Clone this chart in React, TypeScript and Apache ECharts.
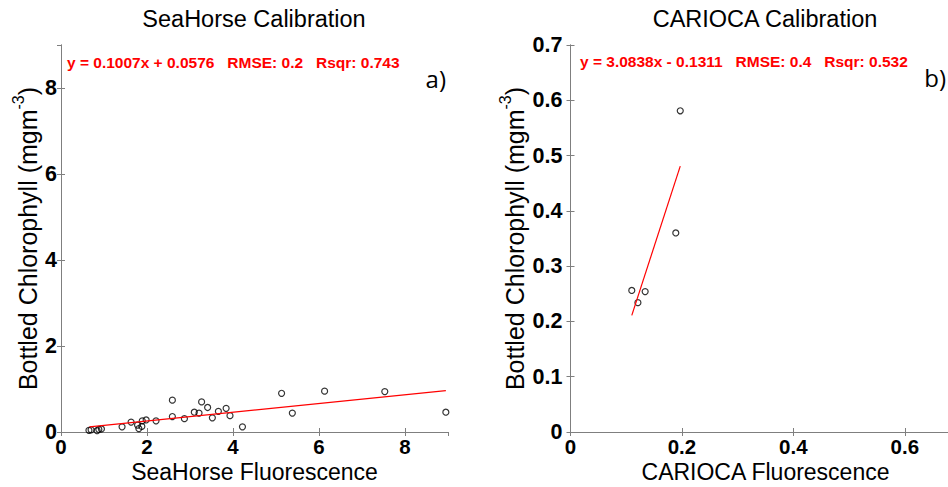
import React, { useEffect, useRef } from 'react';
import * as echarts from 'echarts';

// SeaHorse calibration points (fluorescence, bottled chlorophyll)
const seaHorseX = [0.65, 0.70, 0.84, 0.88, 0.94, 1.42, 1.63, 1.78, 1.81, 1.88, 1.89, 1.98, 2.21, 2.59, 2.59, 2.87, 3.10, 3.21, 3.27, 3.41, 3.52, 3.66, 3.84, 3.93, 4.22, 5.13, 5.38, 6.13, 7.53, 8.95];
const seaHorseY = [0.04, 0.05, 0.03, 0.06, 0.07, 0.12, 0.23, 0.16, 0.08, 0.13, 0.26, 0.28, 0.26, 0.74, 0.36, 0.31, 0.46, 0.44, 0.70, 0.57, 0.33, 0.48, 0.55, 0.38, 0.12, 0.90, 0.44, 0.95, 0.94, 0.46];
const seaHorseFitX = [0.66, 8.95];
const seaHorseFitY = [0.12, 0.96];

// CARIOCA calibration points
const cariocaX = [0.197, 0.189, 0.110, 0.134, 0.121];
const cariocaY = [0.581, 0.360, 0.256, 0.254, 0.234];
const cariocaFitX = [0.110, 0.197];
const cariocaFitY = [0.211, 0.481];

const titles = ['SeaHorse Calibration', 'CARIOCA Calibration'];
const xNames = ['SeaHorse Fluorescence', 'CARIOCA Fluorescence'];
const fitTexts = [
  'y = 0.1007x + 0.0576   RMSE: 0.2   Rsqr: 0.743',
  'y = 3.0838x - 0.1311   RMSE: 0.4   Rsqr: 0.532',
];
const panelTags = ['a)', 'b)'];

const FONT = 'Liberation Sans, Arial, sans-serif';
const GRAY = '#7f7f7f';
const X_NAME_SIZE = 23;
const Y_NAME_SIZE = 25;
const TITLE_SIZE = 23.5;
const TICK_SIZE = 20.5;

function bottomX(gi: number, max: number, interval: number, name: string) {
  return {
    type: 'value', gridIndex: gi, position: 'bottom', min: 0, max, interval,
    name, nameLocation: 'middle', nameGap: 28, nameMoveOverlap: false,
    nameTextStyle: { fontSize: X_NAME_SIZE, fontFamily: FONT, color: '#000', lineHeight: 23 },
    axisLine: { show: true, lineStyle: { color: GRAY, width: 1 } },
    axisTick: { show: true, inside: true, length: 4, lineStyle: { color: GRAY } },
    axisLabel: { fontSize: TICK_SIZE, fontWeight: 'bold', fontFamily: FONT, color: '#000', margin: 4, lineHeight: 21, showMaxLabel: false },
    splitLine: { show: false },
  };
}
function mirror(gi: number, pos: string, max: number, interval: number) {
  return {
    type: 'value', gridIndex: gi, position: pos, min: 0, max, interval,
    axisLine: { show: true, lineStyle: { color: GRAY, width: 1 } },
    axisTick: { show: true, inside: true, length: 4, lineStyle: { color: GRAY } },
    axisLabel: { show: false },
    splitLine: { show: false },
  };
}
function leftY(gi: number, max: number, interval: number, gap: number, margin: number, showMax: boolean) {
  return {
    type: 'value', gridIndex: gi, position: 'left', min: 0, max, interval,
    name: '{n|Bottled Chlorophyll (mgm}{s|-3}{n|)}', nameLocation: 'middle', nameGap: gap, nameMoveOverlap: false,
    nameTextStyle: {
      fontSize: Y_NAME_SIZE, fontFamily: FONT, color: '#000',
      rich: {
        n: { fontSize: Y_NAME_SIZE, fontFamily: FONT, color: '#000', lineHeight: 30, verticalAlign: 'bottom' },
        s: { fontSize: 16, fontFamily: FONT, color: '#000', lineHeight: 16, verticalAlign: 'top' },
      },
    },
    axisLine: { show: true, lineStyle: { color: GRAY, width: 1 } },
    axisTick: { show: true, inside: true, length: 4, lineStyle: { color: GRAY } },
    axisLabel: { fontSize: 21.5, fontWeight: 'bold', fontFamily: FONT, color: '#000', margin, showMaxLabel: showMax },
    splitLine: { show: false },
  };
}

export default function App() {
  const ref = useRef<HTMLDivElement>(null);
  useEffect(() => {
    const chart = echarts.init(ref.current!, null, { renderer: 'svg' });
    const scatterStyle = { color: 'rgba(0,0,0,0)', borderColor: '#000', borderWidth: 1.2 };
    const titleStyle = { fontSize: TITLE_SIZE, fontWeight: 'normal', fontFamily: FONT, color: '#000' };
    chart.setOption({
      animation: false,
      backgroundColor: '#fff',
      title: [
        { text: titles[0], left: 254, top: 7, textAlign: 'center', padding: 0, textStyle: titleStyle },
        { text: titles[1], left: 765, top: 7, textAlign: 'center', padding: 0, textStyle: titleStyle },
      ],
      grid: [
        { left: 61, top: 45, width: 387, height: 387, outerBoundsMode: 'none', containLabel: false },
        { left: 570.5, top: 45, width: 390, height: 387, outerBoundsMode: 'none', containLabel: false },
      ],
      xAxis: [
        bottomX(0, 9, 2, xNames[0]),
        mirror(0, 'top', 9, 2),
        bottomX(1, 0.7, 0.2, xNames[1]),
        mirror(1, 'top', 0.7, 0.2),
      ],
      yAxis: [
        leftY(0, 9, 2, 21, 4, false),
        mirror(0, 'right', 9, 2),
        leftY(1, 0.7, 0.1, 43, 8, true),
        mirror(1, 'right', 0.7, 0.1),
      ],
      series: [
        {
          type: 'line', xAxisIndex: 0, yAxisIndex: 0, symbol: 'none',
          data: seaHorseFitX.map((x, i) => [x, seaHorseFitY[i]]),
          lineStyle: { color: '#ff0000', width: 1.2 },
        },
        {
          type: 'scatter', xAxisIndex: 0, yAxisIndex: 0, symbol: 'circle', symbolSize: 6,
          data: seaHorseX.map((x, i) => [x, seaHorseY[i]]),
          itemStyle: scatterStyle,
        },
        {
          type: 'line', xAxisIndex: 2, yAxisIndex: 2, symbol: 'none',
          data: cariocaFitX.map((x, i) => [x, cariocaFitY[i]]),
          lineStyle: { color: '#ff0000', width: 1.2 },
        },
        {
          type: 'scatter', xAxisIndex: 2, yAxisIndex: 2, symbol: 'circle', symbolSize: 6,
          data: cariocaX.map((x, i) => [x, cariocaY[i]]),
          itemStyle: scatterStyle,
        },
      ],
      graphic: [
        { type: 'text', x: 67, y: 62, style: { text: fitTexts[0], fill: '#ff0000', fontSize: 15.5, fontWeight: 'bold', fontFamily: FONT, verticalAlign: 'middle' } },
        { type: 'text', x: 580, y: 61, style: { text: fitTexts[1], fill: '#ff0000', fontSize: 15.5, fontWeight: 'bold', fontFamily: FONT, verticalAlign: 'middle' } },
        { type: 'text', x: 446, y: 78, style: { text: panelTags[0], fill: '#000', fontSize: 24, fontFamily: 'Open Sans, sans-serif', align: 'right', verticalAlign: 'middle' } },
        { type: 'text', x: 946, y: 77, style: { text: panelTags[1], fill: '#000', fontSize: 24, fontFamily: 'Open Sans, sans-serif', align: 'right', verticalAlign: 'middle' } },
      ],
    });
    return () => chart.dispose();
  }, []);
  return <div ref={ref} style={{ position: 'fixed', left: 0, top: 0, width: 948, height: 487, background: '#fff' }} />;
}
